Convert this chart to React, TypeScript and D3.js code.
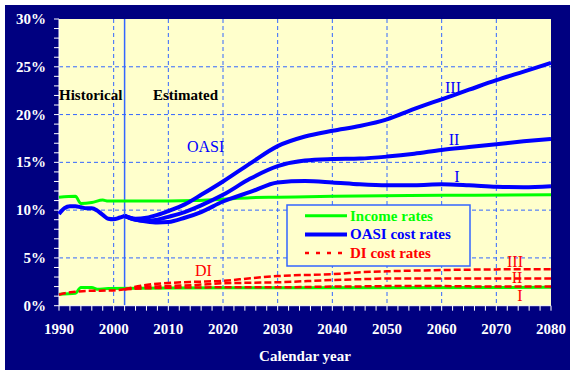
import React from "react";
import * as d3 from "d3";

// ---- Data (percent of taxable payroll) ----
const histYears = [1990, 1991, 1992, 1993, 1994, 1995, 1996, 1997, 1998, 1999, 2000, 2001, 2002];
const oasiCostHist = [9.6, 10.2, 10.4, 10.4, 10.3, 10.2, 10.2, 9.95, 9.5, 9.1, 9.05, 9.2, 9.4];

const projYears = [2002, 2004, 2006, 2008, 2010, 2013, 2016, 2020, 2025, 2030, 2035, 2040, 2045, 2050, 2055, 2060, 2065, 2070, 2075, 2080];
const oasiCostI = [9.4, 9.0, 8.8, 8.7, 8.75, 9.2, 9.8, 10.9, 11.9, 12.9, 13.05, 12.9, 12.7, 12.6, 12.6, 12.7, 12.6, 12.45, 12.4, 12.5];
const oasiCostII = [9.4, 9.0, 8.9, 9.0, 9.3, 9.8, 10.5, 11.6, 13.3, 14.6, 15.2, 15.35, 15.4, 15.6, 15.9, 16.3, 16.6, 16.9, 17.2, 17.45];
const oasiCostIII = [9.4, 9.1, 9.2, 9.5, 9.9, 10.6, 11.6, 13.0, 14.9, 16.7, 17.7, 18.3, 18.8, 19.5, 20.6, 21.6, 22.6, 23.6, 24.5, 25.4];

const oasiIncomeYears = [1990, 1993, 1994, 1996, 1998, 1999, 2010, 2015, 2020, 2025, 2030, 2040, 2060, 2080];
const oasiIncome = [11.35, 11.45, 10.7, 10.8, 11.05, 10.95, 10.95, 11.0, 11.15, 11.3, 11.35, 11.45, 11.55, 11.6];

const diIncomeYears = [1990, 1993, 1994, 1996, 1997, 1999, 2010, 2030, 2080];
const diIncome = [1.2, 1.3, 1.9, 1.9, 1.72, 1.8, 1.85, 1.88, 1.92];

const diHistYears = [1990, 1991, 1993, 1995, 2000, 2002];
const diCostHist = [1.15, 1.3, 1.45, 1.55, 1.6, 1.72];

const diYears = [2002, 2005, 2008, 2010, 2015, 2020, 2025, 2030, 2040, 2047, 2050, 2060, 2070, 2080];
const diCostI = [1.72, 1.8, 1.85, 1.88, 1.9, 1.93, 1.93, 1.93, 2.0, 2.03, 2.05, 2.05, 2.0, 2.0];
const diCostII = [1.72, 1.95, 2.02, 2.06, 2.17, 2.35, 2.4, 2.45, 2.69, 2.8, 2.85, 2.85, 2.85, 2.85];
const diCostIII = [1.72, 2.1, 2.3, 2.38, 2.5, 2.6, 2.87, 3.1, 3.3, 3.55, 3.6, 3.73, 3.8, 3.82];

const yTicks = [0, 5, 10, 15, 20, 25, 30];
const xTicks = [1990, 2000, 2010, 2020, 2030, 2040, 2050, 2060, 2070, 2080];

const legendItems = [
  { label: "Income rates", color: "#00FF00", dash: "", width: 3 },
  { label: "OASI cost rates", color: "#0000FF", dash: "", width: 4 },
  { label: "DI cost rates", color: "#FF0000", dash: "4,7", width: 2.5 },
];

const NAVY = "#000080";
const PLOT_BG = "#FFFFCC";
const GRID = "#3366FF";
const FONT = "'Liberation Serif', 'Times New Roman', serif";

export default function App() {
  const left = 59, right = 551, top = 19, bottom = 305.7;
  const x = d3.scaleLinear().domain([1990, 2080]).range([left, right]);
  const y = d3.scaleLinear().domain([0, 30]).range([bottom, top]);

  const mk = (yrs: number[], vals: number[]) =>
    d3.line<number>().x((_, i) => x(yrs[i])).y((v) => y(v)).curve(d3.curveMonotoneX)(vals) || "";

  const minorY = d3.range(0, 31, 1);
  const minorX = d3.range(1990, 2081, 2);

  return (
    <div style={{ position: "fixed", left: 0, top: 0 }}>
      <svg width={575} height={375} style={{ display: "block", background: "#fff" }} fontFamily={FONT}>
        <rect x={5} y={5} width={565} height={365} fill={NAVY} />
        <rect x={left} y={top} width={right - left} height={bottom - top} fill={PLOT_BG} />

        {/* grid */}
        {yTicks.slice(1, -1).map((t) => (
          <line key={"gy" + t} x1={left} x2={right} y1={y(t)} y2={y(t)} stroke={GRID} strokeWidth={1} strokeDasharray="4,3" />
        ))}
        {xTicks.slice(1, -1).map((t) => (
          <line key={"gx" + t} x1={x(t)} x2={x(t)} y1={top} y2={bottom} stroke={GRID} strokeWidth={1} strokeDasharray="4,3" />
        ))}
        <line x1={x(2002)} x2={x(2002)} y1={top} y2={bottom} stroke={GRID} strokeWidth={1.5} />

        {/* axes */}
        <line x1={left} x2={left} y1={top} y2={bottom} stroke="#fff" strokeWidth={1} />
        <line x1={left} x2={right} y1={bottom} y2={bottom} stroke="#fff" strokeWidth={1} />
        {minorY.map((t) => (
          <line key={"ty" + t} x1={left - 5} x2={left} y1={y(t)} y2={y(t)} stroke="#fff" strokeWidth={1} />
        ))}
        {minorX.map((t) => (
          <line key={"tx" + t} x1={x(t)} x2={x(t)} y1={bottom} y2={bottom + 5} stroke="#fff" strokeWidth={1} />
        ))}
        {yTicks.map((t) => (
          <text key={"ly" + t} x={left - 13} y={y(t) + 5} textAnchor="end" fill="#fff" fontSize={15} fontWeight="bold">
            {t}%
          </text>
        ))}
        {xTicks.map((t) => (
          <text key={"lx" + t} x={x(t)} y={334} textAnchor="middle" fill="#fff" fontSize={15} fontWeight="bold">
            {t}
          </text>
        ))}
        <text x={(left + right) / 2} y={361} textAnchor="middle" fill="#fff" fontSize={15} fontWeight="bold">
          Calendar year
        </text>

        {/* income lines */}
        <path d={mk(oasiIncomeYears, oasiIncome)} fill="none" stroke="#00FF00" strokeWidth={3} />
        <path d={mk(diIncomeYears, diIncome)} fill="none" stroke="#00FF00" strokeWidth={3} />

        {/* DI cost */}
        {[diCostI, diCostII, diCostIII].map((s, i) => (
          <path key={"di" + i} d={mk(diYears, s)} fill="none" stroke="#FF0000" strokeWidth={2.5} strokeDasharray="7,3" />
        ))}
        <path d={mk(diHistYears, diCostHist)} fill="none" stroke="#FF0000" strokeWidth={2.5} strokeDasharray="7,3" />

        {/* OASI cost */}
        <path d={mk(histYears, oasiCostHist)} fill="none" stroke="#0000FF" strokeWidth={4} />
        {[oasiCostI, oasiCostII, oasiCostIII].map((s, i) => (
          <path key={"oa" + i} d={mk(projYears, s)} fill="none" stroke="#0000FF" strokeWidth={4} />
        ))}

        {/* annotations */}
        <text x={59} y={100} fill="#000" fontSize={15} fontWeight="bold">Historical</text>
        <text x={153} y={100} fill="#000" fontSize={15} fontWeight="bold">Estimated</text>
        <text x={187} y={152} fill="#0000FF" fontSize={16}>OASI</text>
        <text x={195} y={276} fill="#FF0000" fontSize={16}>DI</text>
        <text x={453} y={93} fill="#0000FF" fontSize={16} textAnchor="middle">III</text>
        <text x={454} y={145} fill="#0000FF" fontSize={16} textAnchor="middle">II</text>
        <text x={457} y={182} fill="#0000FF" fontSize={16} textAnchor="middle">I</text>
        <text x={515} y={267} fill="#FF0000" fontSize={16} textAnchor="middle">III</text>
        <text x={517} y={283} fill="#FF0000" fontSize={16} textAnchor="middle">II</text>
        <text x={520} y={301} fill="#FF0000" fontSize={16} textAnchor="middle">I</text>

        {/* legend */}
        <rect x={287} y={205} width={183} height={61} fill={PLOT_BG} stroke={GRID} strokeWidth={1.5} />
        {legendItems.map((it, i) => {
          const cy = 215.7 + i * 18.7;
          return (
            <g key={"lg" + i}>
              <line x1={305} x2={347} y1={cy} y2={cy} stroke={it.color} strokeWidth={it.width} strokeDasharray={it.dash || undefined} />
              <text x={350} y={cy + 5} fill={it.color} fontSize={15} fontWeight="bold">{it.label}</text>
            </g>
          );
        })}
      </svg>
    </div>
  );
}
